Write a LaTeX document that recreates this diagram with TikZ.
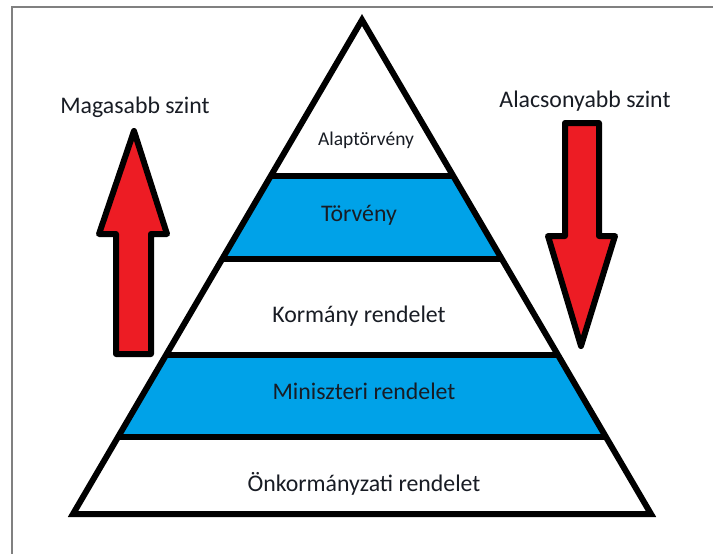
\documentclass[tikz,border=0pt]{standalone}
\usepackage{fontspec}
\setmainfont{Carlito}
\begin{document}
\definecolor{paintred}{RGB}{237,28,36}
\definecolor{paintblue}{RGB}{0,162,232}
\definecolor{labeltext}{RGB}{24,28,36}
\definecolor{framegray}{RGB}{128,128,128}
\begin{tikzpicture}[x=1pt,y=-1pt,
  outline/.style={draw=black,line width=6pt},
  bigarrow/.style={outline,fill=paintred,line join=round},
  lbl/.style={text=labeltext,font=\fontsize{23.8}{28}\selectfont,inner sep=0pt},
  smalllbl/.style={lbl,font=\fontsize{19.5}{23}\selectfont}]
\useasboundingbox (0,0) rectangle (713,554);
\fill[white] (0,0) rectangle (713,554);
% frame edges
\draw[framegray,line width=2pt] (11.5,554) -- (11.5,6.5) -- (713,6.5);

% pyramid corners and level boundaries on the sides
\coordinate (apex) at (362,20);
\coordinate (bl) at (73,514);
\coordinate (br) at (651,514);
\coordinate (l1) at (270.7,176); \coordinate (r1) at (453.3,176);
\coordinate (l2) at (222.2,259); \coordinate (r2) at (501.8,259);
\coordinate (l3) at (166.0,355); \coordinate (r3) at (558.0,355);
\coordinate (l4) at (118.1,437); \coordinate (r4) at (605.9,437);

% blue levels
\fill[paintblue] (l1) -- (r1) -- (r2) -- (l2) -- cycle;
\fill[paintblue] (l3) -- (r3) -- (r4) -- (l4) -- cycle;
% level separators
\draw[outline] (l1) -- (r1);
\draw[outline] (l2) -- (r2);
\draw[outline] (l3) -- (r3);
\draw[outline] (l4) -- (r4);
% pyramid outline
\draw[outline,line join=miter] (apex) -- (br) -- (bl) -- cycle;

% level labels
\node[smalllbl] (alap) at (366,140) {Alaptörvény};
\node[lbl] (torv) at (359,215) {Törvény};
\node[lbl] (korm) at (359,316) {Kormány rendelet};
\node[lbl] (mini) at (364,391) {Miniszteri rendelet};
\node[lbl] (onk) at (364,484) {Önkormányzati rendelet};

% up arrow
\draw[bigarrow] (134,131) -- (167,234) -- (151,234) -- (151,354)
  -- (116,354) -- (116,234) -- (99,234) -- cycle;
\node[lbl] (magas) at (135,107) {Magasabb szint};

% down arrow
\draw[bigarrow] (565,123) -- (599,123) -- (599,236) -- (615,236)
  -- (581,346) -- (548,236) -- (565,236) -- cycle;
\node[lbl] (alacs) at (585,101) {Alacsonyabb szint};
\end{tikzpicture}
\end{document}
